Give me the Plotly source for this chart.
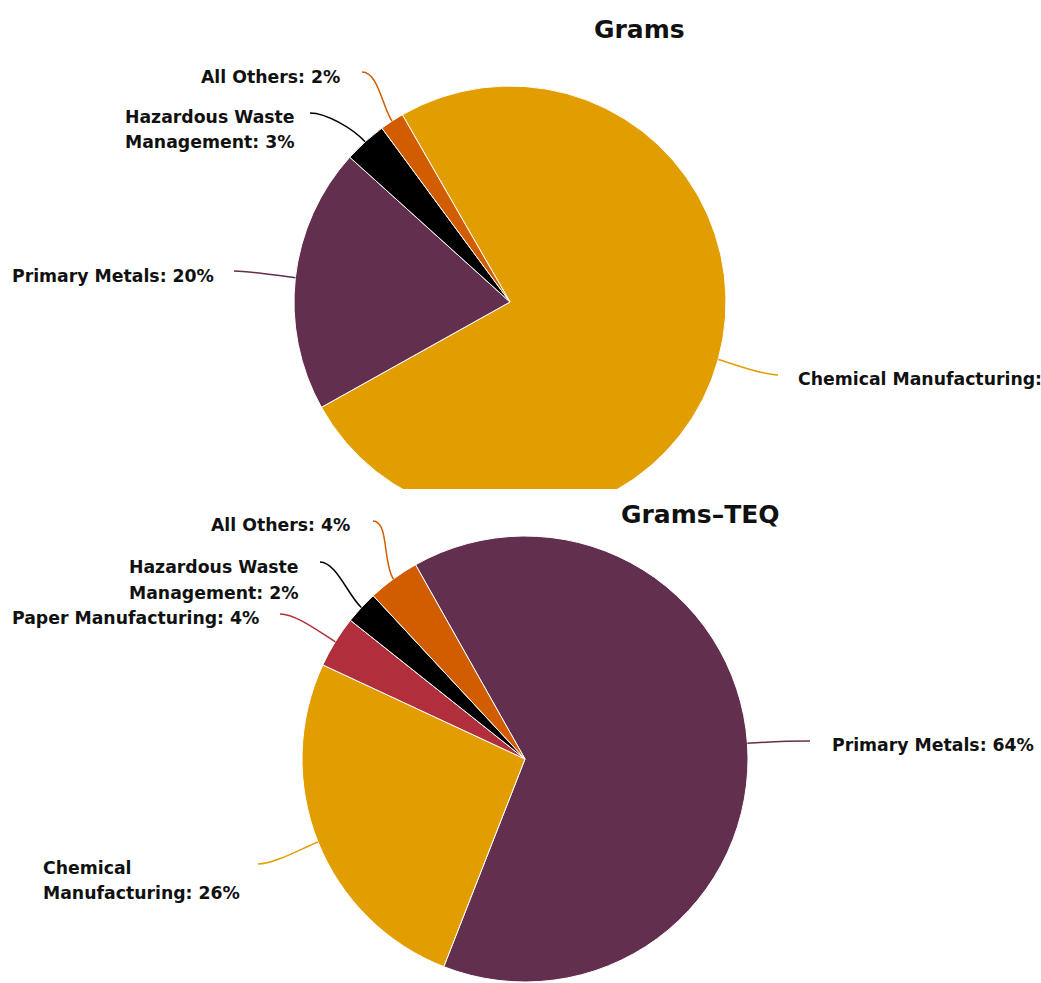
import math
import plotly.graph_objects as go

# ---------------- data ----------------
grams_categories = ["Chemical Manufacturing", "Primary Metals", "Hazardous Waste Management", "All Others"]
grams_values = [75.2, 19.8, 3.2, 1.8]

teq_categories = ["Primary Metals", "Chemical Manufacturing", "Paper Manufacturing",
                  "Hazardous Waste Management", "All Others"]
teq_values = [64.1, 26.0, 3.75, 2.4, 3.75]

# ---------------- styling / layout ----------------
W, H = 1041, 983
FONT = "DejaVu Sans"
LABEL_SIZE = 17.3
TITLE_SIZE = 25
COLORS = {
    "Chemical Manufacturing": "#E29E00",
    "Primary Metals": "#632F4F",
    "Hazardous Waste Management": "#000000",
    "All Others": "#D25C00",
    "Paper Manufacturing": "#B12F3D",
}


def px(x):
    return x / W


def py(y):
    return 1 - y / H


# pie geometry (pixels): centre, radius, start angle (deg clockwise from 12 o'clock)
# label layout: connector end (x, y), side, and either a single-line anchor or
# wrapped lines (left x, list of (line text, line centre y)).
PIES = [
    dict(title="Grams", cats=grams_categories, vals=grams_values, cx=510, cy=302, r=216, start=330.1,
         title_pos=(639, 30),
         labels={
             # the original chart cut this label at its right edge, showing only the name
             "Chemical Manufacturing": dict(conn=(778, 375), side="R", at=(796, 379), name_only=True),
             "Primary Metals": dict(conn=(234, 271), side="L", at=(216, 276)),
             "Hazardous Waste Management": dict(conn=(310, 113), side="L", left=123,
                                                lines=[("Hazardous Waste", 117), ("Management", 142)]),
             "All Others": dict(conn=(362, 72), side="L", at=(342, 77)),
         }),
    dict(title="Grams\u2013TEQ", cats=teq_categories, vals=teq_values, cx=525, cy=759, r=223, start=330.6,
         title_pos=(700, 514),
         labels={
             "Primary Metals": dict(conn=(810, 741), side="R", at=(830, 745)),
             "Chemical Manufacturing": dict(conn=(258, 864), side="L", left=41,
                                            lines=[("Chemical", 868), ("Manufacturing", 893)]),
             "Paper Manufacturing": dict(conn=(280, 614), side="L", at=(261, 618)),
             "Hazardous Waste Management": dict(conn=(320, 562), side="L", left=127,
                                                lines=[("Hazardous Waste", 567), ("Management", 593)]),
             "All Others": dict(conn=(373, 521), side="L", at=(352, 525)),
         }),
]

fig = go.Figure()
shapes = []
annotations = []

# mask that clips the bottom of the first chart (it was a separate chart area in the original)
shapes.append(dict(type="rect", xref="paper", yref="paper", layer="above",
                   x0=px(250), x1=px(780), y0=py(534), y1=py(489),
                   fillcolor="white", line=dict(width=0)))

label_font = dict(family=FONT, size=LABEL_SIZE, color="#111111", weight="bold")

for p in PIES:
    cx, cy, r = p["cx"], p["cy"], p["r"]
    fig.add_trace(go.Pie(
        labels=p["cats"], values=p["vals"], sort=False, direction="clockwise",
        rotation=p["start"], textinfo="none", hoverinfo="label+percent",
        marker=dict(colors=[COLORS[c] for c in p["cats"]], line=dict(color="white", width=1)),
        domain=dict(x=[px(cx - r), px(cx + r)], y=[py(cy + r), py(cy - r)]),
        showlegend=False,
    ))
    total = sum(p["vals"])
    acc = 0.0
    for cat, v in zip(p["cats"], p["vals"]):
        mid = math.radians(p["start"] + (acc + v / 2) / total * 360)
        acc += v
        ux, uy = math.sin(mid), -math.cos(mid)
        sx, sy = cx + r * ux, cy + r * uy
        L = p["labels"][cat]
        lx, ly = L["conn"]
        sgn = 1 if L["side"] == "L" else -1
        c1 = (lx + sgn * 16, ly)
        c2 = (sx + ux * 18, sy + uy * 18)
        path = "M {:.5f} {:.5f} C {:.5f} {:.5f}, {:.5f} {:.5f}, {:.5f} {:.5f}".format(
            px(lx), py(ly), px(c1[0]), py(c1[1]), px(c2[0]), py(c2[1]), px(sx), py(sy))
        shapes.append(dict(type="path", xref="paper", yref="paper", path=path, layer="above",
                           line=dict(color=COLORS[cat], width=1.5)))
        pct = round(v / total * 100)
        if "lines" in L:
            n = len(L["lines"])
            for i, (txt, yy) in enumerate(L["lines"]):
                if i == n - 1:
                    txt = f"{txt}: {pct}%"
                annotations.append(dict(
                    xref="paper", yref="paper", x=px(L["left"]), y=py(yy), showarrow=False,
                    text=txt, xanchor="left", yanchor="middle", font=label_font))
        else:
            txt = f"{cat}:" if L.get("name_only") else f"{cat}: {pct}%"
            annotations.append(dict(
                xref="paper", yref="paper", x=px(L["at"][0]), y=py(L["at"][1]), showarrow=False,
                text=txt, xanchor="right" if L["side"] == "L" else "left", yanchor="middle",
                font=label_font))
    annotations.append(dict(
        xref="paper", yref="paper", x=px(p["title_pos"][0]), y=py(p["title_pos"][1]),
        showarrow=False, text=p["title"], xanchor="center", yanchor="middle",
        font=dict(family=FONT, size=TITLE_SIZE, color="#111111", weight="bold"),
    ))

fig.update_layout(
    width=W, height=H, margin=dict(l=0, r=0, t=0, b=0),
    paper_bgcolor="white", plot_bgcolor="white",
    shapes=shapes, annotations=annotations,
)

fig.write_html("out.html", config={"displayModeBar": False},
               post_script="document.body.style.margin='0';document.body.style.overflow='hidden';")
